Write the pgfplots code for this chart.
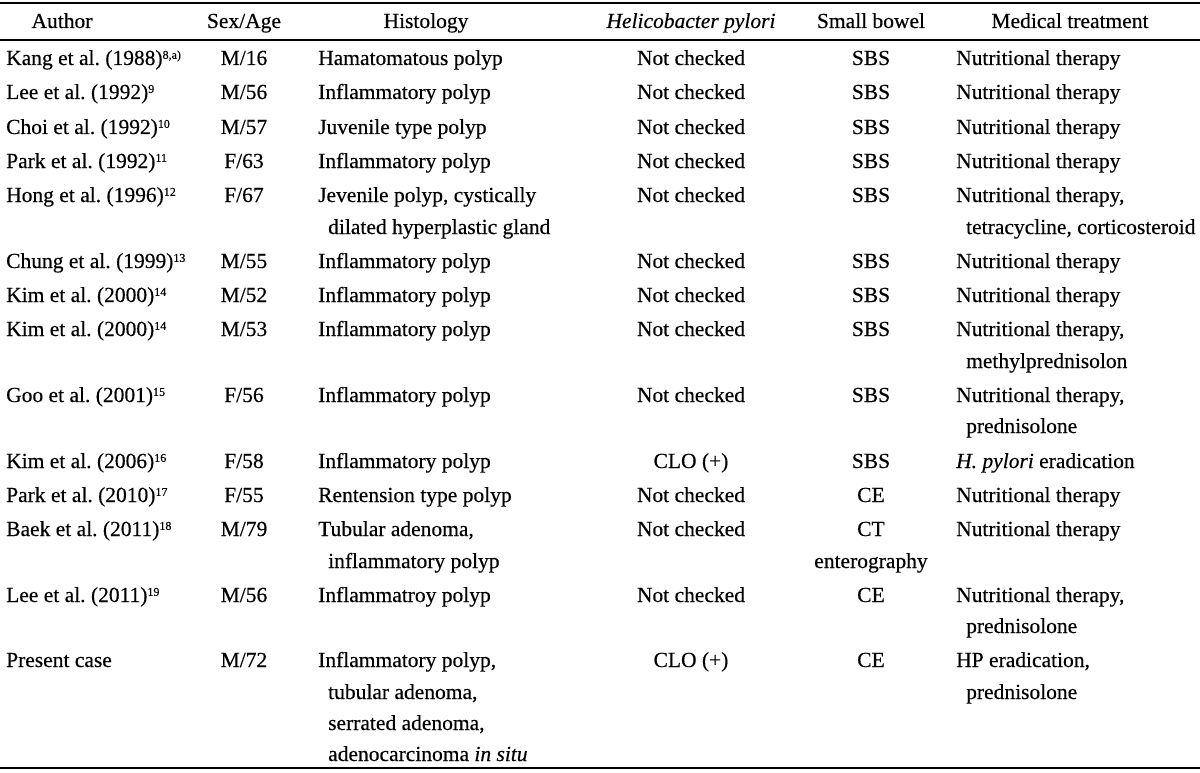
\documentclass[border=0pt]{standalone}
\usepackage{fontspec}
\setmainfont{Liberation Serif}[FakeBold=0.35]
\usepackage{pgfplots}
\usepackage{pgfplotstable}
\pgfplotsset{compat=1.18}
\frenchspacing
\newcommand{\sref}[1]{\raisebox{0.62ex}{\fontsize{12bp}{12bp}\selectfont #1}}

% one table per column: x, baseline y (pixels from top), text
\pgfplotstableread[col sep=semicolon,row sep=\\]{
x;y;t\\
62;28;{Author}\\
244;28;{Sex/Age}\\
426;28;{Histology}\\
691;28;{\textit{Helicobacter pylori}}\\
871;28;{Small bowel}\\
1070;28;{Medical treatment}\\
}\headtab

\pgfplotstableread[col sep=semicolon,row sep=\\]{
x;y;t\\
6;65;{Kang et al. (1988)\sref{8,a)}}\\
6;99;{Lee et al. (1992)\sref{9}}\\
6;134;{Choi et al. (1992)\sref{10}}\\
6;168;{Park et al. (1992)\sref{11}}\\
6;202;{Hong et al. (1996)\sref{12}}\\
6;268;{Chung et al. (1999)\sref{13}}\\
6;302;{Kim et al. (2000)\sref{14}}\\
6;336;{Kim et al. (2000)\sref{14}}\\
6;402;{Goo et al. (2001)\sref{15}}\\
6;468;{Kim et al. (2006)\sref{16}}\\
6;502;{Park et al. (2010)\sref{17}}\\
6;536;{Baek et al. (2011)\sref{18}}\\
6;602;{Lee et al. (2011)\sref{19}}\\
6;667;{Present case}\\
}\authortab

\pgfplotstableread[col sep=semicolon,row sep=\\]{
x;y;t\\
244;65;{M/16}\\
244;99;{M/56}\\
244;134;{M/57}\\
244;168;{F/63}\\
244;202;{F/67}\\
244;268;{M/55}\\
244;302;{M/52}\\
244;336;{M/53}\\
244;402;{F/56}\\
244;468;{F/58}\\
244;502;{F/55}\\
244;536;{M/79}\\
244;602;{M/56}\\
244;667;{M/72}\\
}\sexagetab

\pgfplotstableread[col sep=semicolon,row sep=\\]{
x;y;t\\
318;65;{Hamatomatous polyp}\\
318;99;{Inflammatory polyp}\\
318;134;{Juvenile type polyp}\\
318;168;{Inflammatory polyp}\\
318;202;{Jevenile polyp, cystically}\\
328;234;{dilated hyperplastic gland}\\
318;268;{Inflammatory polyp}\\
318;302;{Inflammatory polyp}\\
318;336;{Inflammatory polyp}\\
318;402;{Inflammatory polyp}\\
318;468;{Inflammatory polyp}\\
318;502;{Rentension type polyp}\\
318;536;{Tubular adenoma,}\\
328;568;{inflammatory polyp}\\
318;602;{Inflammatroy polyp}\\
318;667;{Inflammatory polyp,}\\
328;699;{tubular adenoma,}\\
328;730;{serrated adenoma,}\\
328;761;{adenocarcinoma \textit{in situ}}\\
}\histtab

\pgfplotstableread[col sep=semicolon,row sep=\\]{
x;y;t\\
691;65;{Not checked}\\
691;99;{Not checked}\\
691;134;{Not checked}\\
691;168;{Not checked}\\
691;202;{Not checked}\\
691;268;{Not checked}\\
691;302;{Not checked}\\
691;336;{Not checked}\\
691;402;{Not checked}\\
691;468;{CLO (+)}\\
691;502;{Not checked}\\
691;536;{Not checked}\\
691;602;{Not checked}\\
691;667;{CLO (+)}\\
}\hptab

\pgfplotstableread[col sep=semicolon,row sep=\\]{
x;y;t\\
871;65;{SBS}\\
871;99;{SBS}\\
871;134;{SBS}\\
871;168;{SBS}\\
871;202;{SBS}\\
871;268;{SBS}\\
871;302;{SBS}\\
871;336;{SBS}\\
871;402;{SBS}\\
871;468;{SBS}\\
871;502;{CE}\\
871;536;{CT}\\
871;568;{enterography}\\
871;602;{CE}\\
871;667;{CE}\\
}\bowltab

\pgfplotstableread[col sep=semicolon,row sep=\\]{
x;y;t\\
956;65;{Nutritional therapy}\\
956;99;{Nutritional therapy}\\
956;134;{Nutritional therapy}\\
956;168;{Nutritional therapy}\\
956;202;{Nutritional therapy,}\\
966;234;{tetracycline, corticosteroid}\\
956;268;{Nutritional therapy}\\
956;302;{Nutritional therapy}\\
956;336;{Nutritional therapy,}\\
966;368;{methylprednisolon}\\
956;402;{Nutritional therapy,}\\
966;433;{prednisolone}\\
956;468;{\textit{H. pylori} eradication}\\
956;502;{Nutritional therapy}\\
956;536;{Nutritional therapy}\\
956;602;{Nutritional therapy,}\\
966;633;{prednisolone}\\
956;667;{HP eradication,}\\
966;699;{prednisolone}\\
}\medtab

\pgfplotsset{
  celltext/.style={
    only marks, mark=*, mark size=0pt, black,
    mark options={draw=none,fill=none},
    nodes near coords, point meta=explicit symbolic,
    every node near coord/.append style={
      anchor=#1, inner sep=0pt, text=black,
      font=\fontsize{21.5bp}{25bp}\selectfont},
  },
}

\begin{document}
\begin{tikzpicture}
\useasboundingbox (0,0) rectangle (1200bp,773bp);
\begin{axis}[
    at={(0,0)}, anchor=south west,
    width=1200bp, height=773bp, scale only axis,
    xmin=0, xmax=1200, ymin=0, ymax=773,
    y dir=reverse,
    hide axis,
    clip=false,
]
% rules
\addplot[black, line width=2.6bp] coordinates {(0,3) (1200,3)};
\addplot[black, line width=2bp] coordinates {(0,40) (1200,40)};
\addplot[black, line width=2.6bp] coordinates {(0,768) (1200,768)};

\addplot[celltext=base] table[x=x, y=y, meta=t] {\headtab};
\addplot[celltext=base west] table[x=x, y=y, meta=t] {\authortab};
\addplot[celltext=base] table[x=x, y=y, meta=t] {\sexagetab};
\addplot[celltext=base west] table[x=x, y=y, meta=t] {\histtab};
\addplot[celltext=base] table[x=x, y=y, meta=t] {\hptab};
\addplot[celltext=base] table[x=x, y=y, meta=t] {\bowltab};
\addplot[celltext=base west] table[x=x, y=y, meta=t] {\medtab};
\end{axis}
\end{tikzpicture}
\end{document}
